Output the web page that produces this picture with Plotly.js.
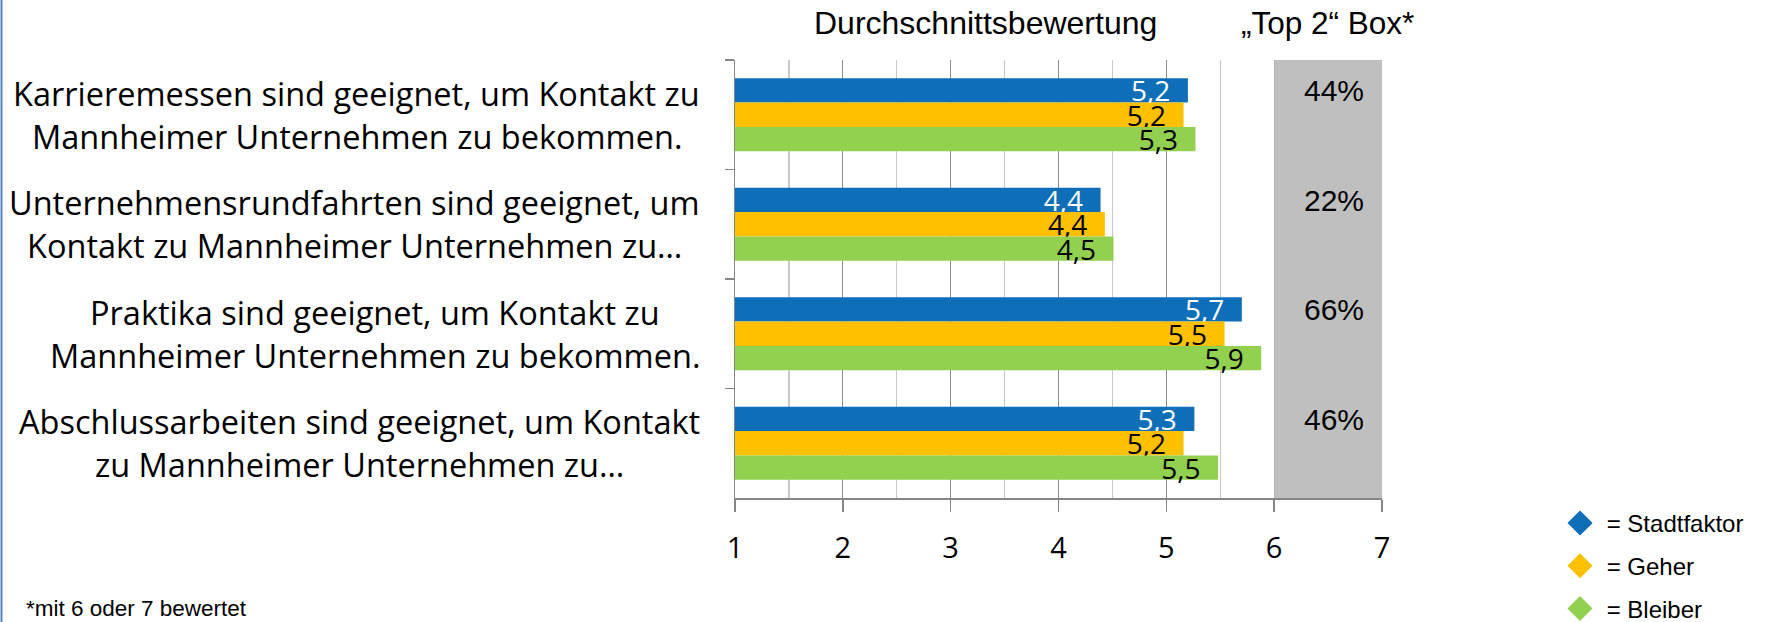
<!DOCTYPE html>
<html>
<head>
<meta charset="utf-8">
<script src="https://cdn.plot.ly/plotly-3.0.1.min.js"></script>
<style>
html,body{margin:0;padding:0;background:#ffffff;}
#chart{width:1791px;height:622px;}
</style>
</head>
<body>
<div id="chart"></div>
<script>
// ---- data ----
const categories = [
  'Karrieremessen sind geeignet, um Kontakt zu<br>Mannheimer Unternehmen zu bekommen.',
  'Unternehmensrundfahrten sind geeignet, um<br>Kontakt zu Mannheimer Unternehmen zu…',
  'Praktika sind geeignet, um Kontakt zu<br>Mannheimer Unternehmen zu bekommen.',
  'Abschlussarbeiten sind geeignet, um Kontakt<br>zu Mannheimer Unternehmen zu…'
];
const seriesNames = ['Stadtfaktor', 'Geher', 'Bleiber'];
const stadtfaktor = [5.20, 4.39, 5.70, 5.26];
const geher       = [5.16, 4.43, 5.54, 5.16];
const bleiber     = [5.27, 4.51, 5.88, 5.48];
const top2Box     = [44, 22, 66, 46];
const xTicks      = [1, 2, 3, 4, 5, 6, 7];
const headerLeft  = 'Durchschnittsbewertung';
const headerRight = '„Top 2“ Box*';
const footnote    = '*mit 6 oder 7 bewertet';

// ---- styles ----
const colors = ['#0E6EB8', '#FFC000', '#92D050'];
const labelColors = ['#FFFFFF', '#000000', '#000000'];
const seriesValues = [stadtfaktor, geher, bleiber];
const catFont = {family: 'Open Sans', size: 32.5, color: '#000000'};

const W = 1791, H = 622;
const M = {l: 735, r: 409, t: 60, b: 124, autoexpand: false};
const PW = W - M.l - M.r, PH = H - M.t - M.b;
const px2x = p => (p - M.l) / PW;
const py2y = p => (H - M.b - p) / PH;
const labelRight = 700;
const lineGap = 43.4;

function draw() {
  const traces = [];
  seriesValues.forEach((vals, i) => {
    traces.push({
      type: 'bar',
      orientation: 'h',
      y: categories,
      x: vals,
      name: seriesNames[i],
      marker: {color: colors[i]},
      texttemplate: '%{x:.1f}\u00A0\u00A0',
      textposition: 'inside',
      insidetextanchor: 'end',
      textangle: 0,
      constraintext: 'none',
      textfont: {family: 'Open Sans', size: 28, color: labelColors[i]},
      showlegend: false,
      hoverinfo: 'x+name'
    });
  });
  seriesValues.forEach((vals, i) => {
    traces.push({
      type: 'scatter',
      mode: 'markers',
      x: [null],
      y: [null],
      name: '\u00A0= ' + seriesNames[i],
      legendgroup: 'g' + i,
      marker: {symbol: 'diamond', size: 16, color: colors[i], line: {color: colors[i], width: 3}},
      showlegend: true,
      hoverinfo: 'skip'
    });
  });

  const cv = document.createElement('canvas').getContext('2d');
  cv.font = catFont.size + 'px "' + catFont.family + '"';

  const annotations = [];
  const catBlocks = [];
  categories.forEach((c, i) => {
    const lines = c.split('<br>');
    const blockW = Math.max(...lines.map(t => cv.measureText(t).width));
    const cx = labelRight - blockW / 2;
    const idx = [];
    lines.forEach((t, j) => {
      idx.push(annotations.length);
      annotations.push({
        xref: 'paper', x: px2x(cx), xanchor: 'center',
        yref: 'y', y: c, yanchor: 'middle',
        yshift: (lines.length - 1) * lineGap / 2 - j * lineGap,
        text: t, showarrow: false,
        font: Object.assign({}, catFont)
      });
    });
    catBlocks.push(idx);
    annotations.push({
      xref: 'x', x: 6.5, xshift: 6, xanchor: 'center',
      yref: 'y', y: c, yshift: 24, yanchor: 'middle',
      text: top2Box[i] + '%', showarrow: false,
      font: {family: 'Liberation Sans', size: 30, color: '#000000'}
    });
  });
  annotations.push({
    xref: 'paper', x: px2x(985), xanchor: 'center',
    yref: 'paper', y: py2y(23), yanchor: 'middle',
    text: headerLeft, showarrow: false,
    font: {family: 'Liberation Sans', size: 32, color: '#000000'}
  });
  annotations.push({
    xref: 'paper', x: px2x(1327), xanchor: 'center',
    yref: 'paper', y: py2y(23), yanchor: 'middle',
    text: headerRight, showarrow: false,
    font: {family: 'Liberation Sans', size: 31.5, color: '#000000'}
  });
  annotations.push({
    xref: 'paper', x: px2x(24), xanchor: 'left',
    yref: 'paper', y: py2y(608), yanchor: 'middle',
    text: footnote, showarrow: false,
    font: {family: 'Liberation Sans', size: 22.5, color: '#000000'}
  });

  const layout = {
    width: W, height: H,
    margin: M,
    paper_bgcolor: '#ffffff',
    plot_bgcolor: '#ffffff',
    separators: ',.',
    barmode: 'group',
    bargap: 0.333,
    bargroupgap: 0,
    xaxis: {
      range: [1, 7],
      tickmode: 'array',
      tickvals: xTicks,
      ticktext: xTicks.map(String),
      ticks: 'outside', ticklen: 12, tickwidth: 1.5, tickcolor: '#868686',
      showline: true, linecolor: '#868686', linewidth: 1.5,
      showgrid: true, gridcolor: '#8C8C8C', gridwidth: 1.2,
      minor: {dtick: 0.5, showgrid: true, gridcolor: '#C8C8C8', gridwidth: 1.2, ticks: ''},
      zeroline: false,
      ticklabelstandoff: 12,
      tickfont: {family: 'Open Sans', size: 29, color: '#000000'},
      fixedrange: true
    },
    yaxis: {
      type: 'category',
      autorange: 'reversed',
      showticklabels: false,
      ticks: 'outside', tickson: 'boundaries', ticklen: 9, tickwidth: 1.5, tickcolor: '#868686',
      showline: true, linecolor: '#868686', linewidth: 1.5,
      showgrid: false, zeroline: false,
      fixedrange: true
    },
    shapes: [
      {type: 'rect', xref: 'x', x0: 6, x1: 7, yref: 'paper', y0: 0, y1: 1,
       fillcolor: '#BFBFBF', line: {width: 0}, layer: 'above'},
      {type: 'line', xref: 'paper', x0: px2x(1.5), x1: px2x(1.5),
       yref: 'paper', y0: py2y(622), y1: py2y(0),
       line: {color: '#4F81BD', width: 2}}
    ],
    annotations: annotations,
    showlegend: true,
    legend: {
      x: px2x(1560), xanchor: 'left',
      y: py2y(501), yanchor: 'top',
      font: {family: 'Liberation Sans', size: 24, color: '#000000'},
      tracegroupgap: 8.5,
      bgcolor: 'rgba(0,0,0,0)',
      itemclick: false, itemdoubleclick: false
    }
  };

  return Plotly.newPlot('chart', traces, layout, {displayModeBar: false, staticPlot: true}).then(gd => {
    try {
      // re-centre each label block from the widths actually rendered
      const groups = Array.from(gd.querySelectorAll('.annotation'));
      const byIndex = {};
      groups.forEach((g, n) => {
        const di = g.getAttribute('data-index');
        byIndex[di !== null ? di : String(n)] = g;
      });
      const upd = {};
      catBlocks.forEach(idx => {
        const ws = idx.map(k => {
          const g = byIndex[String(k)];
          const t = g && g.querySelector('text');
          return t ? t.getBBox().width : 0;
        });
        const bw = Math.max(...ws);
        if (bw > 0) idx.forEach(k => { upd['annotations[' + k + '].x'] = px2x(labelRight - bw / 2); });
      });
      if (Object.keys(upd).length) return Plotly.relayout(gd, upd);
    } catch (e) { /* keep first layout */ }
  });
}

const fontLoads = document.fonts && document.fonts.load
  ? Promise.all([
      document.fonts.load('32.5px "Open Sans"'),
      document.fonts.load('28px "Open Sans"'),
      document.fonts.load('30px "Liberation Sans"')
    ]).catch(() => null)
  : Promise.resolve();
fontLoads.then(draw, draw);
</script>
</body>
</html>
